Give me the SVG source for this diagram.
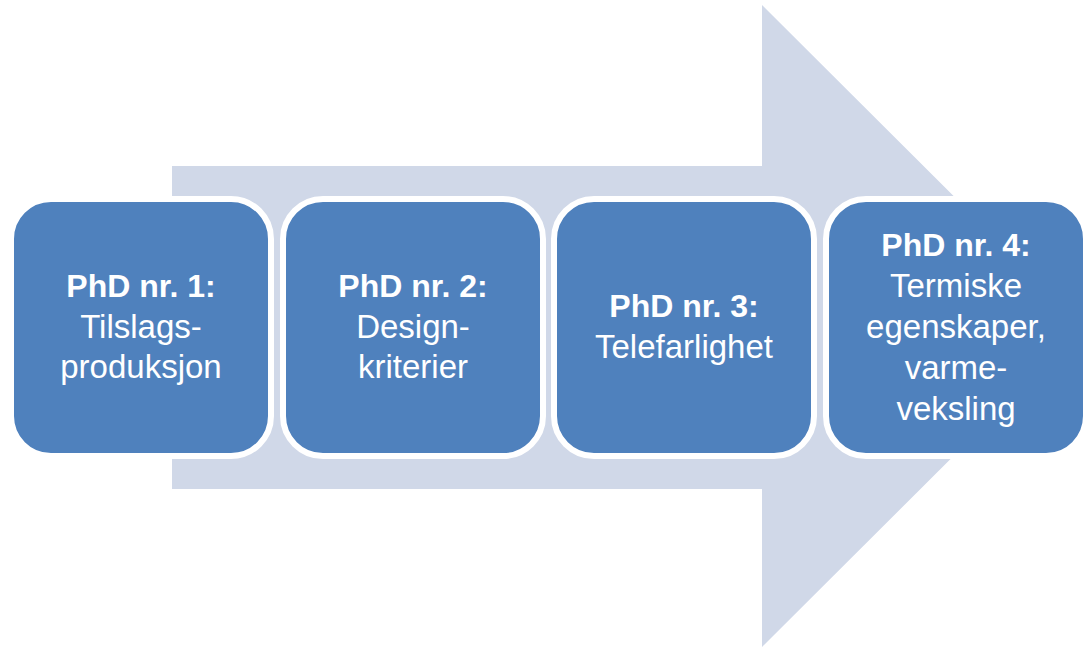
<svg xmlns="http://www.w3.org/2000/svg" width="1089" height="648" viewBox="0 0 1089 648">
  <style>
    .step { fill: #4F81BD; stroke: #FFFFFF; stroke-width: 6; }
    .label { font-family: "Liberation Sans", Arial, sans-serif; font-size: 33px; fill: #FFFFFF; text-anchor: middle; }
    .head { font-weight: bold; font-size: 32px; }
  </style>
  <rect width="1089" height="648" fill="#FFFFFF"/>
  <!-- background process arrow -->
  <g id="process-arrow">
    <path d="M172,166 H762 V5 L1084,326 L762,647 V489 H172 Z" fill="#D0D8E8"/>
  </g>
  <g id="connectors"></g>
  <g id="phd1">
    <rect class="step" x="11" y="199" width="260" height="257" rx="40"/>
    <text class="label" x="141" y="297"><tspan class="head">PhD nr. 1:</tspan><tspan x="141" dy="40.5">Tilslags-</tspan><tspan x="141" dy="40.5">produksjon</tspan></text>
  </g>
  <g id="phd2">
    <rect class="step" x="283" y="199" width="260" height="257" rx="40"/>
    <text class="label" x="413" y="297"><tspan class="head">PhD nr. 2:</tspan><tspan x="413" dy="40.5">Design-</tspan><tspan x="413" dy="40.5">kriterier</tspan></text>
  </g>
  <g id="phd3">
    <rect class="step" x="554" y="199" width="260" height="257" rx="40"/>
    <text class="label" x="684" y="317"><tspan class="head">PhD nr. 3:</tspan><tspan x="684" dy="40.5">Telefarlighet</tspan></text>
  </g>
  <g id="phd4">
    <rect class="step" x="826" y="199" width="260" height="257" rx="40"/>
    <text class="label" x="956" y="256"><tspan class="head">PhD nr. 4:</tspan><tspan x="956" dy="41">Termiske</tspan><tspan x="956" dy="41">egenskaper,</tspan><tspan x="956" dy="41">varme-</tspan><tspan x="956" dy="41">veksling</tspan></text>
  </g>
</svg>
